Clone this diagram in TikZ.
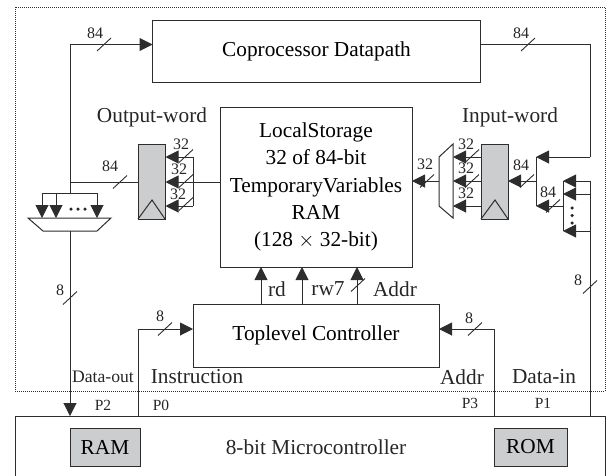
\documentclass[tikz,border=0pt]{standalone}
\usepackage{fontspec}
\setmainfont{Liberation Serif}
\usetikzlibrary{arrows.meta}
\definecolor{regfill}{RGB}{204,205,207}
\definecolor{linecol}{RGB}{45,45,45}
\tikzset{
	box/.style={shape=rectangle, draw=linecol, line width=1pt, inner sep=0pt, outer sep=0pt, font=\fontsize{21.3}{25}\selectfont},
	reg/.style={box, fill=regfill},
	lbl/.style={inner sep=0pt, text=black!85, font=\fontsize{21.3}{25}\selectfont},
	wid/.style={inner sep=0pt, text=black!85, font=\fontsize{16}{18}\selectfont},
	port/.style={inner sep=0pt, text=black!85, font=\fontsize{15.5}{18}\selectfont},
	wire/.style={draw=linecol, line width=1pt},
	bus/.style={wire, -{Triangle[length=13pt,width=13pt]}},
	dotsmark/.style={circle, fill=black!85, inner sep=0pt, minimum size=3.5pt},
}
\newcommand{\slashmark}[2]{\draw[wire, line width=0.9pt] (#1-7,#2+6.5) -- (#1+7,#2-6.5);}
\begin{document}
\begin{tikzpicture}[x=1pt, y=-1pt]
	\clip (0,0) rectangle (610,475);
	\useasboundingbox (0,0) rectangle (610,475);

	\draw[densely dotted, line width=1pt, draw=linecol] (15,7) rectangle (605,391);

	% main blocks
	\node[box, minimum width=328, minimum height=62]  (copro)   at (316.5,51)  {Coprocessor Datapath};
	\node[box, minimum width=192, minimum height=160, align=center, font=\fontsize{21.3}{27.4}\selectfont] (storage) at (316,187)
		{LocalStorage\\32 of 84-bit\\TemporaryVariables\\RAM\\(128 $\times$ 32-bit)};
	\node[box, minimum width=246, minimum height=63]  (ctrl)    at (316,335.5) {Toplevel Controller};
	\node[reg, minimum width=27, minimum height=75]   (outreg)  at (151.5,181.5) {};
	\node[reg, minimum width=27, minimum height=75]   (inreg)   at (494.5,181.5) {};

	% microcontroller outline runs off the page
	\node[box, minimum width=590, minimum height=74]  (mcu)     at (310,453)   {};
	\node[lbl] (mcutext) at (316,447) {8-bit Microcontroller};
	\node[reg, minimum width=70, minimum height=38]   (ram)     at (105,447)   {RAM};
	\node[reg, minimum width=73, minimum height=38]   (rom)     at (530.5,447) {ROM};

	% clock triangles
	\draw[wire] (outreg.south west) -- (152,200) -- (outreg.south east);
	\draw[wire] (inreg.south west) -- (495,200) -- (inreg.south east);

	% muxes
	\draw[wire, fill=white] (28,218) -- (111,218) -- (97,231) -- (43,231) -- cycle;
	\draw[wire, fill=white] (439,157) -- (453,144) -- (453,218) -- (439,206) -- cycle;

	% left side
	\coordinate (muxoutT) at (70,231);
	\coordinate (muxtop)  at (70,193);
	\coordinate (lefttop) at (70,44.5);
	\coordinate (leftmid) at (70,182);
	\coordinate (p2)      at (70,416);
	\coordinate (busL)    at (42,193);
	\coordinate (busM)    at (56,193);
	\coordinate (busR)    at (97,193);
	\coordinate (tipL)    at (42,218);
	\coordinate (tipM)    at (56,218);
	\coordinate (tipR)    at (97,218);
	\draw[bus] (muxtop) -- (lefttop) -- (copro.west |- lefttop);
	\draw[wire] (leftmid) -- (outreg.west |- leftmid);
	\draw[bus] (muxoutT) -- (p2);
	\draw[bus] (busL) -- (tipL);
	\draw[bus] (busM) -- (tipM);
	\draw[bus] (busR) -- (tipR);
	\draw[wire] (busL) -- (busR);
	\node[dotsmark] (muxdotA) at (71,209) {};
	\node[dotsmark] (muxdotB) at (78,209) {};
	\node[dotsmark] (muxdotC) at (85,209) {};

	% output word fan
	\coordinate (outT) at (193,157);
	\coordinate (outM) at (193,182);
	\coordinate (outB) at (193,206);
	\coordinate (outtipT) at (165.5,157);
	\coordinate (outtipM) at (165.5,182);
	\coordinate (outtipB) at (165.5,206);
	\draw[wire] (outT) -- (outB);
	\draw[bus] (outT) -- (outtipT);
	\draw[bus] (storage.west |- outM) -- (outtipM);
	\draw[bus] (outB) -- (outtipB);

	% input word side
	\coordinate (inT)  at (590,157);
	\coordinate (inRt) at (590,44.5);
	\coordinate (inJt) at (536,157);
	\coordinate (inJm) at (536,181);
	\coordinate (inJb) at (536,206);
	\coordinate (p1)   at (590,416);
	\draw[wire] (copro.east |- inRt) -- (inRt) -- (inT);
	\draw[bus] (inT) -- (inJt);
	\draw[wire] (inJt) -- (inJb);
	\draw[bus] (inJm) -- (inreg.east |- inJm);
	\coordinate (smuxT) at (563,181);
	\coordinate (smuxB) at (563,231);
	\draw[wire] (smuxT) -- (smuxB);
	\coordinate (smuxin) at (563,206);
	\draw[bus] (smuxin) -- (inJb);
	\coordinate (rT) at (590,181);
	\coordinate (rM) at (590,194);
	\coordinate (rB) at (590,231);
	\coordinate (sM) at (563,194);
	\draw[wire] (rT) -- (p1);
	\draw[bus] (rT) -- (smuxT);
	\draw[bus] (rM) -- (sM);
	\draw[bus] (rB) -- (smuxB);
	\node[dotsmark] (sdotA) at (572,208) {};
	\node[dotsmark] (sdotB) at (572,215.5) {};
	\node[dotsmark] (sdotC) at (572,223) {};

	\coordinate (rgT) at (481,157);
	\coordinate (rgM) at (481,181);
	\coordinate (rgB) at (481,206);
	\coordinate (mxT) at (453,157);
	\coordinate (mxM) at (453,181);
	\coordinate (mxB) at (453,206);
	\coordinate (mxO) at (439,181);
	\draw[bus] (rgT) -- (mxT);
	\draw[bus] (rgM) -- (mxM);
	\draw[bus] (rgB) -- (mxB);
	\draw[bus] (mxO) -- (storage.east |- mxO);

	% controller
	\coordinate (rdB) at (261,304);
	\coordinate (rwB) at (302,304);
	\coordinate (adB) at (357,304);
	\draw[bus] (rdB) -- (rdB |- storage.south);
	\draw[bus] (rwB) -- (rwB |- storage.south);
	\draw[bus] (adB) -- (adB |- storage.south);
	\coordinate (p0)  at (138,416);
	\coordinate (p0t) at (138,329);
	\coordinate (p3)  at (494,416);
	\coordinate (p3t) at (494,329);
	\draw[bus] (p0) -- (p0t) -- (ctrl.west |- p0t);
	\draw[bus] (p3) -- (p3t) -- (ctrl.east |- p3t);

	% width marks
	\slashmark{120}{182}
	\slashmark{186}{156}
	\slashmark{186}{181}
	\slashmark{186}{204}
	\slashmark{104}{44.5}
	\slashmark{528}{44.5}
	\slashmark{472}{156}
	\slashmark{472}{181}
	\slashmark{427}{181}
	\slashmark{527}{181}
	\slashmark{553}{206}
	\slashmark{70}{298}
	\slashmark{590}{287}
	\slashmark{165}{329}
	\slashmark{475}{329}
	\slashmark{358}{285}

	% labels
	\node[lbl] (outname) at (152,117) {Output-word};
	\node[lbl] (inname)  at (510,117) {Input-word};
	\node[lbl] (rd)      at (277,289) {rd};
	\node[lbl] (rw)      at (328,289) {rw7};
	\node[lbl] (addr)    at (395,289) {Addr};
	\node[lbl] (instr)   at (197,377) {Instruction};
	\node[lbl, font=\fontsize{17.6}{20}\selectfont] (dout) at (103,377) {Data-out};
	\node[lbl] (addrp) at (462,377) {Addr};
	\node[lbl] (din)   at (544,377) {Data-in};
	\node[port] (lp2) at (103,405) {P2};
	\node[port] (lp0) at (161,405) {P0};
	\node[port] (lp3) at (470,403) {P3};
	\node[port] (lp1) at (543,403) {P1};

	\node[wid] (w1)  at (110,166) {84};
	\node[wid] (w2)  at (181,144) {32};
	\node[wid] (w3)  at (179,169) {32};
	\node[wid] (w4)  at (178,194) {32};
	\node[wid] (w5)  at (466,144) {32};
	\node[wid] (w6)  at (466,168) {32};
	\node[wid] (w7)  at (466,193) {32};
	\node[wid] (w8)  at (425,164) {32};
	\node[wid] (w9)  at (521,165) {84};
	\node[wid] (w10) at (548,192) {84};
	\node[wid] (w11) at (95,33)   {84};
	\node[wid] (w12) at (521,33)  {84};
	\node[wid] (w13) at (60,290)  {8};
	\node[wid] (w14) at (578,280) {8};
	\node[wid] (w15) at (160,316) {8};
	\node[wid] (w16) at (469,318) {8};
\end{tikzpicture}
\end{document}
